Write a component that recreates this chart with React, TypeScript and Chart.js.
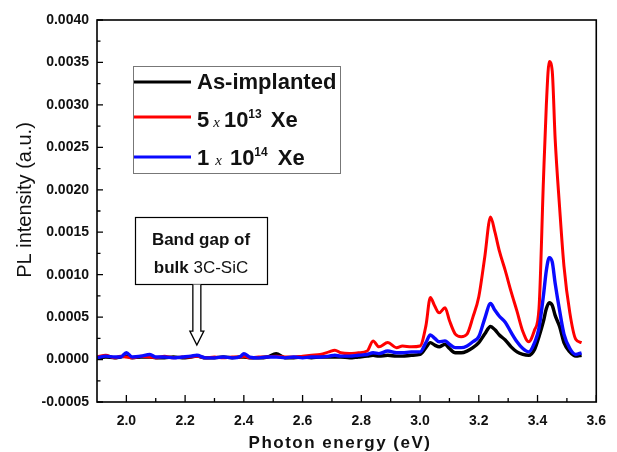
import React, { useEffect, useRef } from 'react';
import { Chart, registerables } from 'chart.js';

Chart.register(...registerables);

// Photon energy (eV)
const energy = [
  1.90, 1.93, 1.96, 1.98, 2.00, 2.02, 2.05, 2.08, 2.10, 2.13,
  2.16, 2.19, 2.22, 2.24, 2.27, 2.30, 2.33, 2.36, 2.39, 2.40,
  2.42, 2.45, 2.48, 2.51, 2.54, 2.57, 2.60, 2.63, 2.66, 2.69,
  2.71, 2.73, 2.76, 2.79, 2.82, 2.84, 2.86, 2.89, 2.92, 2.94,
  2.97, 3.00, 3.02, 3.035, 3.05, 3.065, 3.085, 3.10, 3.12, 3.14,
  3.16, 3.18, 3.20, 3.22, 3.24, 3.255, 3.27, 3.29, 3.31, 3.33,
  3.35, 3.37, 3.39, 3.405, 3.42, 3.43, 3.44, 3.45, 3.46, 3.475,
  3.49, 3.51, 3.53, 3.55,
];

// PL intensity (a.u.)
const asImplanted = [
  0.00002, 0.00003, 0.00002, 0.00003, 0.00004, 0.00002, 0.00003, 0.00003, 0.00002, 0.00002,
  0.00003, 0.00002, 0.00003, 0.00004, 0.00002, 0.00002, 0.00003, 0.00002, 0.00003, 0.00003,
  0.00002, 0.00002, 0.00003, 0.00007, 0.00002, 0.00002, 0.00003, 0.00002, 0.00003, 0.00003,
  0.00003, 0.00003, 0.00002, 0.00003, 0.00004, 0.00005, 0.00004, 0.00005, 0.00004, 0.00004,
  0.00005, 0.00006, 0.00014, 0.00020, 0.00017, 0.00015, 0.00018, 0.00013, 0.00008, 0.00008,
  0.00010, 0.00014, 0.00020, 0.00030, 0.00039, 0.00035, 0.00029, 0.00023, 0.00015, 0.00009,
  0.00006, 0.00005, 0.00012, 0.00027, 0.00045, 0.00060, 0.00067, 0.00064, 0.00052, 0.00039,
  0.00020, 0.00009, 0.00004, 0.00005,
];

const xe5e13 = [
  0.00003, 0.00005, 0.00002, 0.00004, 0.00003, 0.00002, 0.00004, 0.00003, 0.00002, 0.00004,
  0.00002, 0.00003, 0.00003, 0.00004, 0.00002, 0.00003, 0.00002, 0.00003, 0.00003, 0.00004,
  0.00002, 0.00003, 0.00003, 0.00004, 0.00003, 0.00003, 0.00004, 0.00005, 0.00006, 0.00009,
  0.00011, 0.00008, 0.00007, 0.00008, 0.00010, 0.00022, 0.00015, 0.00020, 0.00014, 0.00016,
  0.00015, 0.00016, 0.00040, 0.00073, 0.00063, 0.00055, 0.00061, 0.00046, 0.00030, 0.00027,
  0.00030, 0.00050, 0.00074, 0.00120, 0.00168, 0.00150, 0.00128, 0.00105, 0.00080, 0.00057,
  0.00033, 0.00021, 0.00035, 0.00060, 0.00210, 0.00300, 0.00351, 0.00340, 0.00260, 0.00180,
  0.00110, 0.00055, 0.00024, 0.00020,
];

const xe1e14 = [
  0.00002, 0.00004, 0.00003, 0.00003, 0.00008, 0.00003, 0.00004, 0.00006, 0.00003, 0.00003,
  0.00002, 0.00003, 0.00004, 0.00005, 0.00002, 0.00002, 0.00003, 0.00002, 0.00004, 0.00007,
  0.00003, 0.00002, 0.00003, 0.00003, 0.00002, 0.00003, 0.00002, 0.00003, 0.00003, 0.00004,
  0.00005, 0.00004, 0.00004, 0.00005, 0.00006, 0.00008, 0.00007, 0.00010, 0.00008, 0.00008,
  0.00009, 0.00009, 0.00020, 0.00029, 0.00025, 0.00021, 0.00022, 0.00018, 0.00014, 0.00014,
  0.00016, 0.00021, 0.00027, 0.00048, 0.00066, 0.00058, 0.00051, 0.00044, 0.00032, 0.00021,
  0.00013, 0.00009, 0.00020, 0.00037, 0.00075, 0.00105, 0.00120, 0.00115, 0.00090, 0.00058,
  0.00030, 0.00013, 0.00006, 0.00008,
];

const xTicks = [2.0, 2.2, 2.4, 2.6, 2.8, 3.0, 3.2, 3.4, 3.6];
const yTicks = [-0.0005, 0.0, 0.0005, 0.001, 0.0015, 0.002, 0.0025, 0.003, 0.0035, 0.004];
const xMin = 1.9;
const xMax = 3.6;

const seriesNames = ['As-implanted', '5 x 10^13 Xe', '1 x 10^14 Xe'];
const seriesColors = ['#000000', '#ff0000', '#0a0aff'];

const bandGapEnergy = 2.24;
const bandGapArrowTip = 0.00017;

const SANS = '"Liberation Sans", Arial, sans-serif';

function drawSegments(ctx: CanvasRenderingContext2D, x: number, y: number, segs: any[]) {
  let cx = x;
  for (const s of segs) {
    ctx.font = s.font;
    ctx.fillText(s.text, cx, y - (s.rise || 0));
    cx += ctx.measureText(s.text).width + (s.gap || 0);
  }
}

const decorPlugin = {
  id: 'decor',
  afterDraw(chart: any) {
    const ctx: CanvasRenderingContext2D = chart.ctx;
    const { left, right, top, bottom } = chart.chartArea;
    const xs = chart.scales.x;
    const ys = chart.scales.y;
    ctx.save();

    // frame
    ctx.strokeStyle = '#000';
    ctx.lineWidth = 1.6;
    ctx.strokeRect(left, top, right - left, bottom - top);

    // inward ticks, left axis
    ctx.lineWidth = 1.3;
    ctx.beginPath();
    for (let i = 0; i < yTicks.length; i++) {
      const py = ys.getPixelForValue(yTicks[i]);
      ctx.moveTo(left, py);
      ctx.lineTo(left + 6, py);
      if (i < yTicks.length - 1) {
        const pm = ys.getPixelForValue((yTicks[i] + yTicks[i + 1]) / 2);
        ctx.moveTo(left, pm);
        ctx.lineTo(left + 3.5, pm);
      }
    }
    // inward ticks, bottom axis
    for (let i = 0; i < xTicks.length; i++) {
      const px = xs.getPixelForValue(xTicks[i]);
      ctx.moveTo(px, bottom);
      ctx.lineTo(px, bottom - 7);
      if (i < xTicks.length - 1) {
        const pm = xs.getPixelForValue((xTicks[i] + xTicks[i + 1]) / 2);
        ctx.moveTo(pm, bottom);
        ctx.lineTo(pm, bottom - 4);
      }
    }
    ctx.stroke();

    // axis titles
    ctx.fillStyle = '#111';
    ctx.textAlign = 'center';
    ctx.textBaseline = 'alphabetic';
    ctx.save();
    ctx.translate(31, 200);
    ctx.rotate(-Math.PI / 2);
    ctx.font = `20px ${SANS}`;
    ctx.fillText('PL intensity (a.u.)', 0, 0);
    ctx.restore();

    ctx.save();
    (ctx as any).letterSpacing = '1.5px';
    ctx.font = `bold 17px ${SANS}`;
    ctx.fillText('Photon energy (eV)', 340, 448);
    ctx.restore();

    // legend
    ctx.strokeStyle = '#777';
    ctx.lineWidth = 1;
    ctx.strokeRect(133.5, 66.5, 207, 107);
    const rows = [82, 117, 157];
    ctx.lineWidth = 3.2;
    rows.forEach((ry, i) => {
      ctx.strokeStyle = seriesColors[i];
      ctx.beginPath();
      ctx.moveTo(134, ry);
      ctx.lineTo(191, ry);
      ctx.stroke();
    });
    ctx.fillStyle = '#111';
    ctx.textAlign = 'left';
    const big = `bold 22px ${SANS}`;
    const sup = `bold 12px ${SANS}`;
    const times = `italic 15px "Liberation Serif", "Times New Roman", serif`;
    drawSegments(ctx, 197, 89, [{ text: seriesNames[0], font: big }]);
    drawSegments(ctx, 197, 127, [
      { text: '5', font: big, gap: 4 },
      { text: 'x', font: times, gap: 4 },
      { text: '10', font: big, gap: 0 },
      { text: '13', font: sup, rise: 9, gap: 9 },
      { text: 'Xe', font: big },
    ]);
    drawSegments(ctx, 197, 165, [
      { text: '1', font: big, gap: 6 },
      { text: 'x', font: times, gap: 8 },
      { text: '10', font: big, gap: 0 },
      { text: '14', font: sup, rise: 9, gap: 10 },
      { text: 'Xe', font: big },
    ]);

    // band gap annotation
    ctx.strokeStyle = '#000';
    ctx.lineWidth = 1.2;
    ctx.fillStyle = '#fff';
    ctx.fillRect(135.5, 217.5, 132, 67);
    ctx.strokeRect(135.5, 217.5, 132, 67);
    ctx.fillStyle = '#111';
    ctx.textAlign = 'center';
    ctx.font = `bold 17px ${SANS}`;
    ctx.fillText('Band gap of', 201, 245);
    ctx.textAlign = 'left';
    ctx.font = `bold 17px ${SANS}`;
    const w1 = ctx.measureText('bulk ').width;
    ctx.font = `17px ${SANS}`;
    const w2 = ctx.measureText('3C-SiC').width;
    const sx = 201 - (w1 + w2) / 2;
    ctx.font = `bold 17px ${SANS}`;
    ctx.fillText('bulk ', sx, 273);
    ctx.font = `17px ${SANS}`;
    ctx.fillText('3C-SiC', sx + w1, 273);

    const ax = xs.getPixelForValue(bandGapEnergy);
    const tipY = ys.getPixelForValue(bandGapArrowTip);
    const headY = tipY - 14;
    ctx.beginPath();
    ctx.moveTo(ax - 4, 284.5);
    ctx.lineTo(ax - 4, headY);
    ctx.lineTo(ax - 7, headY);
    ctx.lineTo(ax, tipY);
    ctx.lineTo(ax + 7, headY);
    ctx.lineTo(ax + 4, headY);
    ctx.lineTo(ax + 4, 284.5);
    ctx.fillStyle = '#fff';
    ctx.fill();
    ctx.lineWidth = 1.3;
    ctx.stroke();

    ctx.restore();
  },
};

export default function App() {
  const ref = useRef<HTMLCanvasElement | null>(null);
  useEffect(() => {
    if (!ref.current) return;
    const mk = (vals: number[]) => energy.map((e, i) => ({ x: e, y: vals[i] }));
    const chart = new Chart(ref.current, {
      type: 'line',
      data: {
        datasets: [
          { label: seriesNames[0], data: mk(asImplanted), borderColor: seriesColors[0], borderWidth: 3.4, pointRadius: 0, cubicInterpolationMode: 'monotone', order: 3 },
          { label: seriesNames[1], data: mk(xe5e13), borderColor: seriesColors[1], borderWidth: 3, pointRadius: 0, cubicInterpolationMode: 'monotone', order: 2 },
          { label: seriesNames[2], data: mk(xe1e14), borderColor: seriesColors[2], borderWidth: 3.4, pointRadius: 0, cubicInterpolationMode: 'monotone', order: 1 },
        ],
      },
      options: {
        animation: false,
        responsive: false,
        maintainAspectRatio: false,
        events: [],
        layout: { padding: { top: 20, right: 11, left: 0, bottom: 0 } },
        plugins: { legend: { display: false }, tooltip: { enabled: false }, title: { display: false } },
        scales: {
          x: {
            type: 'linear',
            min: xMin,
            max: xMax,
            grid: { display: false, drawTicks: false },
            border: { display: false },
            afterBuildTicks: (s: any) => { s.ticks = xTicks.map((v) => ({ value: v })); },
            afterFit: (s: any) => { s.height = 50; },
            ticks: {
              padding: 11,
              color: '#111',
              font: { family: SANS, weight: 'bold', size: 14 },
              callback: (v: any) => Number(v).toFixed(1),
              maxRotation: 0,
              autoSkip: false,
            },
          },
          y: {
            type: 'linear',
            min: yTicks[0],
            max: yTicks[yTicks.length - 1],
            grid: { display: false, drawTicks: false },
            border: { display: false },
            afterBuildTicks: (s: any) => { s.ticks = yTicks.map((v) => ({ value: v })); },
            afterFit: (s: any) => { s.width = 97; },
            ticks: {
              padding: 8,
              color: '#111',
              font: { family: SANS, weight: 'bold', size: 14 },
              callback: (v: any) => Number(v).toFixed(4),
              autoSkip: false,
            },
          },
        },
      },
      plugins: [decorPlugin],
    } as any);
    return () => chart.destroy();
  }, []);

  return (
    <div style={{ position: 'absolute', left: 0, top: 0, width: 617, height: 452, background: '#fff' }}>
      <canvas ref={ref} width={617} height={452} style={{ width: 617, height: 452, display: 'block' }} />
    </div>
  );
}
